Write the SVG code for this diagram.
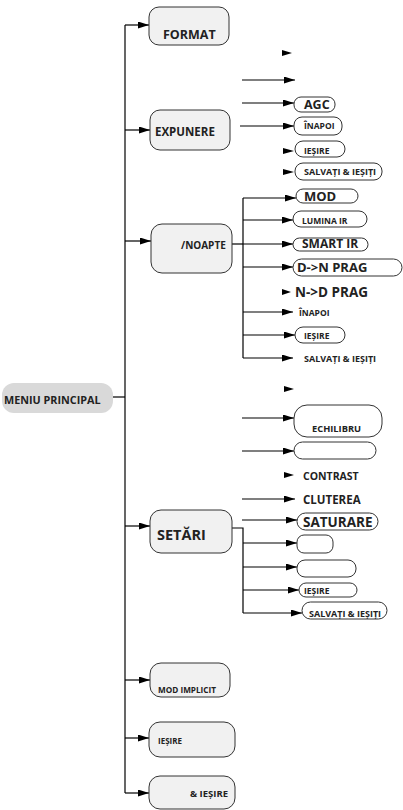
<svg xmlns="http://www.w3.org/2000/svg" width="403" height="810" viewBox="0 0 403 810">
<style>
text{font-family:"Open Sans","Noto Sans","DejaVu Sans",sans-serif;font-weight:bold;fill:#222}
.main{fill:#f1f1f1;stroke:#333;stroke-width:1}
.opt{fill:#fff;stroke:#333;stroke-width:1}
.ln{stroke:#000;stroke-width:1.2;fill:none}
.lg{stroke:#555;stroke-width:1.4;fill:none}
.ah{fill:#000}
.sm{font-size:8.5px}
.sv{font-size:9px}
</style>
<defs>
<marker id="arr" markerUnits="userSpaceOnUse" markerWidth="11" markerHeight="7" refX="11" refY="3.5" orient="auto">
<path d="M0,0 L11,3.5 L0,7 z" fill="#000"/>
</marker>
</defs>
<rect width="403" height="810" fill="#fff"/>
<g id="connectors">
<line class="ln" x1="125" y1="25" x2="125" y2="793"/>
<line class="ln" x1="113" y1="397" x2="125" y2="397"/>
<line class="ln" x1="125" y1="25" x2="149" y2="25" marker-end="url(#arr)"/>
<line class="ln" x1="125" y1="130" x2="150" y2="130" marker-end="url(#arr)"/>
<line class="ln" x1="125" y1="241" x2="151" y2="241" marker-end="url(#arr)"/>
<line class="ln" x1="125" y1="526" x2="150" y2="526" marker-end="url(#arr)"/>
<line class="ln" x1="125" y1="680" x2="150" y2="680" marker-end="url(#arr)"/>
<line class="ln" x1="125" y1="738" x2="149" y2="738" marker-end="url(#arr)"/>
<line class="ln" x1="125" y1="793" x2="149" y2="793" marker-end="url(#arr)"/>
<polygon class="ah" points="282,50 292,53 282,56"/>
<line class="lg" x1="242" y1="80" x2="295" y2="80" marker-end="url(#arr)"/>
<line class="ln" x1="242" y1="103" x2="294" y2="103" marker-end="url(#arr)"/>
<line class="lg" x1="240" y1="126" x2="294" y2="126" marker-end="url(#arr)"/>
<polygon class="ah" points="283,148 294,151 283,154"/>
<polygon class="ah" points="283,169 294,172 283,175"/>
<polyline class="ln" points="232,244 243,244"/>
<line class="ln" x1="243" y1="198" x2="243" y2="358"/>
<line class="ln" x1="243" y1="198" x2="296" y2="198" marker-end="url(#arr)"/>
<line class="ln" x1="243" y1="220" x2="293" y2="220" marker-end="url(#arr)"/>
<line class="ln" x1="243" y1="244" x2="293" y2="244" marker-end="url(#arr)"/>
<line class="ln" x1="243" y1="267" x2="293" y2="267" marker-end="url(#arr)"/>
<polygon class="ah" points="282,289 291,292 282,295"/>
<line class="ln" x1="243" y1="312" x2="293" y2="312" marker-end="url(#arr)"/>
<line class="ln" x1="243" y1="335" x2="295" y2="335" marker-end="url(#arr)"/>
<line class="ln" x1="243" y1="358" x2="293" y2="358" marker-end="url(#arr)"/>
<polygon class="ah" points="284,386 294,389 284,392"/>
<line class="ln" x1="242" y1="418" x2="294" y2="418" marker-end="url(#arr)"/>
<line class="ln" x1="242" y1="451" x2="294" y2="451" marker-end="url(#arr)"/>
<polygon class="ah" points="284,472 294,475 284,478"/>
<line class="ln" x1="242" y1="499" x2="295" y2="499" marker-end="url(#arr)"/>
<line class="ln" x1="242" y1="520" x2="297" y2="520" marker-end="url(#arr)"/>
<polyline class="ln" points="232,528 243,528 243,613"/>
<line class="ln" x1="243" y1="543" x2="297" y2="543" marker-end="url(#arr)"/>
<line class="ln" x1="243" y1="567" x2="297" y2="567" marker-end="url(#arr)"/>
<line class="ln" x1="243" y1="590" x2="299" y2="590" marker-end="url(#arr)"/>
<line class="ln" x1="243" y1="613" x2="302" y2="613" marker-end="url(#arr)"/>
</g>
<g id="meniu-principal">
<rect x="2" y="383" width="111" height="30" rx="12" fill="#d9d9d9"/>
<text x="4" y="404" font-size="10.8">MENIU PRINCIPAL</text>
</g>
<g id="format">
<rect class="main" x="149" y="7" width="80" height="38" rx="10" fill="#f7f7f7"/>
<text x="163" y="39" font-size="12.5">FORMAT</text>
</g>
<g id="expunere">
<rect class="main" x="150" y="110" width="80" height="40" rx="10"/>
<text x="155" y="136" font-size="11.5">EXPUNERE</text>
</g>
<g id="agc"><rect class="opt" x="294" y="97" width="41" height="15" rx="7"/><text x="304" y="108.5" font-size="12.5">AGC</text></g>
<g id="inapoi-1"><rect class="opt" x="294" y="117" width="48" height="18" rx="8"/><text class="sm" x="304" y="129">ÎNAPOI</text></g>
<g id="iesire-1"><rect class="opt" x="295" y="141" width="50" height="16" rx="8"/><text class="sm" x="304" y="153.5">IEȘIRE</text></g>
<g id="salvati-1"><rect class="opt" x="295" y="163" width="87" height="17" rx="8"/><text class="sv" x="304" y="175">SALVAȚI &amp; IEȘIȚI</text></g>
<g id="noapte">
<rect class="main" x="151" y="224" width="81" height="49" rx="11"/>
<text x="181" y="249" font-size="10">/NOAPTE</text>
</g>
<g id="mod"><rect class="opt" x="296" y="189" width="62" height="14" rx="7"/><text x="304" y="200.5" font-size="13">MOD</text></g>
<g id="lumina-ir"><rect class="opt" x="293" y="211" width="74" height="16" rx="8"/><text class="sm" x="302" y="224">LUMINA IR</text></g>
<g id="smart-ir"><rect class="opt" x="293" y="238" width="75" height="13" rx="6.5"/><text x="302" y="248" font-size="12">SMART IR</text></g>
<g id="dn-prag"><rect class="opt" x="293" y="259" width="109" height="17" rx="8.5"/><text x="297" y="272" font-size="13">D-&gt;N PRAG</text></g>
<g id="nd-prag"><text x="295" y="296.5" font-size="13.5">N-&gt;D PRAG</text></g>
<g id="inapoi-2"><text class="sm" x="299" y="315.5">ÎNAPOI</text></g>
<g id="iesire-2"><rect class="opt" x="295" y="327" width="50" height="16" rx="8"/><text class="sm" x="304" y="339">IEȘIRE</text></g>
<g id="salvati-2"><text class="sv" x="304" y="361.5">SALVAȚI &amp; IEȘIȚI</text></g>
<g id="setari">
<rect class="main" x="150" y="510" width="82" height="43" rx="11"/>
<text x="157" y="540" font-size="14.5">SETĂRI</text>
</g>
<g id="echilibru"><rect class="opt" x="294" y="405" width="88" height="32" rx="13"/><text x="312" y="432" font-size="9.3">ECHILIBRU</text></g>
<g id="empty-1"><rect class="opt" x="294" y="442" width="82" height="17" rx="8.5"/></g>
<g id="contrast"><text x="303" y="480" font-size="10.5">CONTRAST</text></g>
<g id="cluterea"><text x="303" y="503.5" font-size="11.5">CLUTEREA</text></g>
<g id="saturare"><rect class="opt" x="297" y="513" width="81" height="17" rx="8.5"/><text x="303" y="526.5" font-size="13.5">SATURARE</text></g>
<g id="empty-2"><rect class="opt" x="297" y="535" width="36" height="18" rx="7"/></g>
<g id="empty-3"><rect class="opt" x="297" y="560" width="59" height="17" rx="8"/></g>
<g id="iesire-3"><rect class="opt" x="299" y="583" width="58" height="14" rx="7"/><text class="sm" x="304" y="593.5">IEȘIRE</text></g>
<g id="salvati-3"><rect class="opt" x="302" y="602" width="85" height="17" rx="8.5"/><text class="sv" x="309" y="617">SALVAȚI &amp; IEȘIȚI</text></g>
<g id="mod-implicit">
<rect class="main" x="150" y="663" width="80" height="34" rx="11"/>
<text x="158" y="693" font-size="8.2">MOD IMPLICIT</text>
</g>
<g id="iesire-main">
<rect class="main" x="149" y="722" width="86" height="35" rx="11"/>
<text x="158" y="744" font-size="8">IEȘIRE</text>
</g>
<g id="salvare-iesire">
<rect class="main" x="149" y="776" width="86" height="33" rx="11"/>
<text x="228" y="797" font-size="9.5" text-anchor="end">&amp; IEȘIRE</text>
</g>
</svg>
